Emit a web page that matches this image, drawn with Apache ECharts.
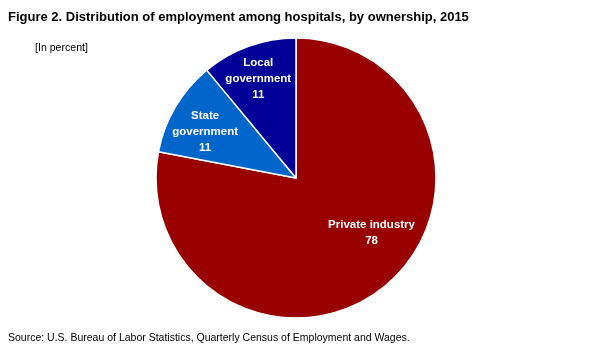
<!DOCTYPE html>
<html>
<head>
<meta charset="utf-8">
<script src="https://cdn.jsdelivr.net/npm/echarts@6/dist/echarts.min.js"></script>
<style>
html,body{margin:0;padding:0;background:#fff;}
#chart{width:599px;height:359px;}
</style>
</head>
<body>
<div id="chart"></div>
<script>
const categories = ['Private industry', 'State\ngovernment', 'Local\ngovernment'];
const values = [78, 11, 11];
const colors = ['#990000', '#0066CC', '#000099'];
const labelShift = [[29, -1], [-28, -9], [-13, -30]];

const chart = echarts.init(document.getElementById('chart'));
const FONT = '"Liberation Sans", Arial, sans-serif';
chart.setOption({
  animation: false,
  title: [
    {
      text: 'Figure 2. Distribution of employment among hospitals, by ownership, 2015',
      left: 8, top: 11, padding: 0,
      textStyle: { fontFamily: FONT, fontWeight: 'bold', fontSize: 13, color: '#000' }
    },
    {
      text: '[In percent]',
      left: 35, top: 43, padding: 0,
      textStyle: { fontFamily: FONT, fontWeight: 'normal', fontSize: 10.6, color: '#000' }
    },
    {
      text: 'Source: U.S. Bureau of Labor Statistics, Quarterly Census of Employment and Wages.',
      left: 8, top: 333, padding: 0,
      textStyle: { fontFamily: FONT, fontWeight: 'normal', fontSize: 10.5, color: '#000' }
    }
  ],
  series: [{
    type: 'pie',
    center: [296, 178],
    radius: 140,
    startAngle: 90,
    clockwise: true,
    avoidLabelOverlap: false,
    itemStyle: { borderColor: '#fff', borderWidth: 1.5 },
    label: {
      show: true,
      position: 'inside',
      formatter: p => p.name + '\n' + p.value,
      color: '#fff',
      fontFamily: FONT,
      fontWeight: 'bold',
      fontSize: 11.5,
      lineHeight: 16,
      align: 'center'
    },
    labelLine: { show: false },
    labelLayout: p => ({ dx: labelShift[p.dataIndex][0], dy: labelShift[p.dataIndex][1] }),
    emphasis: { disabled: true },
    data: categories.map((c, i) => ({ name: c, value: values[i], itemStyle: { color: colors[i] } }))
  }]
});
</script>
</body>
</html>
